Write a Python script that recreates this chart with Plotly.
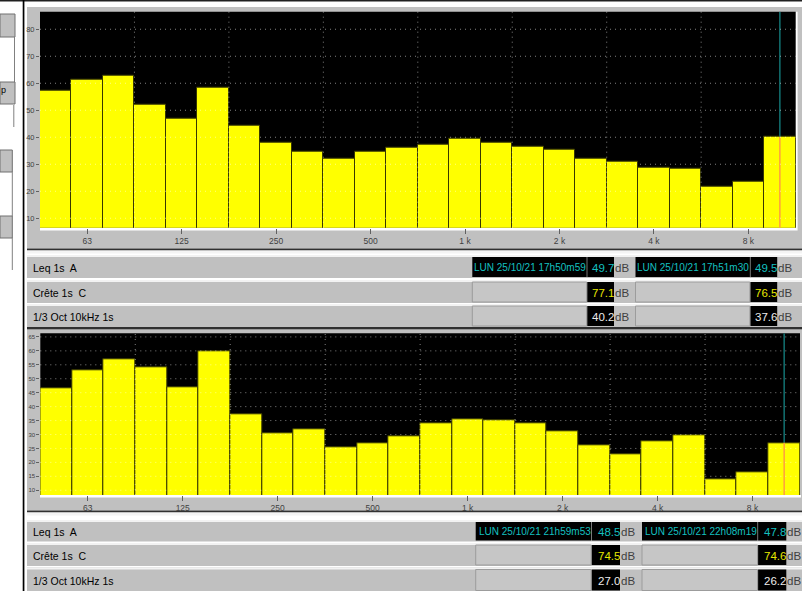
import plotly.graph_objects as go

# 1/3-octave bands shown on both spectra
bands = ["50", "63", "80", "100", "125", "160", "200", "250", "315", "400", "500", "630",
         "800", "1k", "1.25k", "1.6k", "2k", "2.5k", "3.15k", "4k", "5k", "6.3k", "8k", "10k"]
tick_bands = ["63", "125", "250", "500", "1k", "2k", "4k", "8k"]
tick_text = ["63", "125", "250", "500", "1 k", "2 k", "4 k", "8 k"]

# Measurement 1 (17h50)
top_oct10k = [40.2, 37.6]
top_levels = [57.3, 61.2, 62.8, 52.2, 46.7, 58.3, 44.2, 37.9, 34.6, 32.0, 34.6, 36.1,
              37.3, 39.4, 37.9, 36.4, 35.3, 32.0, 31.0, 28.7, 28.4, 21.7, 23.4, top_oct10k[0]]
top_leq_time = ["LUN 25/10/21 17h50m59", "LUN 25/10/21 17h51m30"]
top_leq = [49.7, 49.5]
top_crete = [77.1, 76.5]

# Measurement 2 (22h00)
bottom_oct10k = [27.0, 26.2]
bottom_levels = [46.5, 53.1, 56.9, 54.0, 47.1, 60.0, 37.2, 30.4, 32.0, 25.4, 26.8, 29.3,
                 33.9, 35.4, 35.2, 33.9, 31.0, 26.0, 23.0, 27.4, 29.6, 13.9, 16.6, bottom_oct10k[0]]
bottom_leq_time = ["LUN 25/10/21 21h59m53", "LUN 25/10/21 22h08m19"]
bottom_leq = [48.5, 47.8]
bottom_crete = [74.5, 74.6]

row_labels = ["Leq 1s  A", "Crête 1s  C", "1/3 Oct 10kHz 1s"]

top_range = [6.5, 86.5]
top_ticks = list(range(10, 81, 10))
bottom_range = [8.3, 66.3]
bottom_ticks = list(range(10, 66, 5))

W, H = 802, 591
SANS = "Liberation Sans, Arial, sans-serif"
GRAY = "#c0c0c0"
YELLOW = "#ffff00"
CYAN = "#14c0c0"

def fx(x):
    return x / W

def fy(y):
    return 1 - y / H

shapes = []
annotations = []

def rect(x0, y0, x1, y1, fill, line=None, lw=0, layer="below"):
    shapes.append(dict(type="rect", xref="paper", yref="paper",
                       x0=fx(x0), x1=fx(x1), y0=fy(y1), y1=fy(y0),
                       fillcolor=fill, layer=layer,
                       line=dict(width=lw, color=line or fill)))

def vline(x, y0, y1, color, width=1):
    shapes.append(dict(type="line", xref="paper", yref="paper",
                       x0=fx(x), x1=fx(x), y0=fy(y1), y1=fy(y0),
                       line=dict(color=color, width=width), layer="below"))

def text(x, y, s, color="#000000", size=10, anchor="left", family=SANS):
    annotations.append(dict(xref="paper", yref="paper", x=fx(x), y=fy(y), text=s,
                            showarrow=False, xanchor=anchor, yanchor="middle",
                            font=dict(family=family, size=size, color=color)))

# window chrome: top rule, left panel and separator
rect(0, 0, W, 1.6, "#202020")
rect(22.7, 0, 24.4, H, "#000000")
rect(0, 14, 15, 37, GRAY, "#707070", 1)
vline(14.5, 37, 82, "#808080")
rect(0, 82, 15, 104, GRAY, "#707070", 1)
text(-1, 90, "p", size=9, anchor="left")
vline(13.8, 105, 127, "#808080")
rect(0, 150, 12.3, 172, GRAY, "#707070", 1)
vline(12.3, 172, 216, "#808080")
rect(0, 216, 12.3, 238, GRAY, "#707070", 1)
vline(12.3, 238, 270, "#808080")

# chart frames and their black plotting areas
rect(27, 7, W, 248.5, GRAY)
rect(40, 11.7, 795.6, 227.7, "#000000")
rect(40, 227.7, 796, 230.5, "#ffffff")
rect(796, 11.7, 797.6, 230.5, "#ffffff")
rect(27, 330, W, 510.5, GRAY)
rect(40.3, 333.3, 800, 495, "#000000")
rect(40, 495, 801, 497.5, "#ffffff")


def table(top, rows, xs, leq_time, leq, crete, oct10k):
    # band separating chart frame and table
    rect(27, top, W, top + 2, "#303030")
    rect(27, top + 2, W, top + 5, "#f4f4f4")
    for i, (r0, r1) in enumerate(rows):
        rect(27, r0 - 2, W, r1 + 1, GRAY)
        rect(27, r0 - 2, W, r0, "#f2f2f2")
        text(31, (r0 + r1) / 2 + 0.5, row_labels[i], size=10.5)
    rect(27, rows[-1][1] + 1, W, rows[-1][1] + 3.5, "#303030")
    ax0, ax1, vx1, dbx = xs
    step = dbx - ax0 + 2
    for k in range(2):
        s = k * step
        a0, a1, v1 = ax0 + s, ax1 + s, vx1 + s
        for i, (r0, r1) in enumerate(rows):
            ym = (r0 + r1) / 2 + 0.5
            if i == 0:
                rect(a0, r0, a1, r1, "#000000")
                text(a1 + 1.5, ym, leq_time[k], CYAN, 10, "right")
                val, col = leq[k], CYAN
            else:
                rect(a0, r0, a1, r1, "#c6c6c6", "#9c9c9c", 1)
                val, col = (crete[k], "#e6e600") if i == 1 else (oct10k[k], "#ececec")
            rect(a1 + 0.6, r0, v1, r1, "#000000")
            text(v1 + 1.5, ym, f"{val:.1f}", col, 11.5, "right")
            text(v1 - 1, ym, "dB", "#404040", 11.5, "left")


table(248.5, [(257, 277), (282, 302), (306, 326)],
      (472.3, 586.7, 614, 633.5), top_leq_time, top_leq, top_crete, top_oct10k)
table(510.5, [(522, 540.5), (545, 565), (569.5, 590.5)],
      (475.7, 591.2, 620, 640), bottom_leq_time, bottom_leq, bottom_crete, bottom_oct10k)

fig = go.Figure()
bar_line = dict(color="#383800", width=1)
fig.add_trace(go.Bar(x=bands, y=top_levels, xaxis="x", yaxis="y",
                     marker=dict(color=YELLOW, line=bar_line), hoverinfo="x+y"))
fig.add_trace(go.Bar(x=bands, y=bottom_levels, xaxis="x2", yaxis="y2",
                     marker=dict(color=YELLOW, line=bar_line), hoverinfo="x+y"))

# cursor on the 10 kHz band
for xa, ya, lv, rg in (("x", "y", top_levels[-1], top_range),
                       ("x2", "y2", bottom_levels[-1], bottom_range)):
    fig.add_trace(go.Scatter(x=[bands[-1], bands[-1]], y=[lv, rg[1]], xaxis=xa, yaxis=ya,
                             mode="lines", line=dict(color="#127272", width=1.5),
                             hoverinfo="skip"))
    fig.add_trace(go.Scatter(x=[bands[-1], bands[-1]], y=[rg[0], lv], xaxis=xa, yaxis=ya,
                             mode="lines", line=dict(color="#ff9d40", width=1.5),
                             hoverinfo="skip"))

# dotted grid drawn over the bars
GRID = dict(color="rgba(255,255,255,0.5)", width=1, dash="1px,4px")
for xa, ya, ticks in (("x", "y", top_ticks), ("x2", "y2", bottom_ticks)):
    for t in ticks:
        shapes.append(dict(type="line", xref=f"{xa} domain", yref=ya, x0=0, x1=1,
                           y0=t, y1=t, line=GRID, layer="above"))
    for b in range(3, 24, 3):
        shapes.append(dict(type="line", xref=xa, yref=f"{ya} domain", x0=b - 0.5, x1=b - 0.5,
                           y0=0, y1=1, line=GRID, layer="above"))

xcommon = dict(type="category", range=[-0.5, 23.5], tickmode="array",
               tickvals=tick_bands, ticktext=tick_text, ticks="outside", ticklen=5,
               tickcolor="#606060", tickwidth=1, showgrid=False, zeroline=False,
               showline=False, fixedrange=True,
               tickfont=dict(family=SANS, size=8.5, color="#404040"))
ycommon = dict(ticks="outside", ticklen=3, tickcolor="#606060", tickwidth=1,
               showgrid=False, zeroline=False, showline=False, fixedrange=True,
               tickmode="array")

fig.update_layout(
    width=W, height=H, margin=dict(l=0, r=0, t=0, b=0),
    paper_bgcolor="#ffffff", plot_bgcolor="#000000",
    showlegend=False, bargap=0,
    xaxis=dict(xcommon, domain=[fx(40), fx(795.6)], anchor="y"),
    yaxis=dict(ycommon, domain=[fy(227.7), fy(11.7)], anchor="x", range=top_range,
               tickvals=top_ticks, tickfont=dict(family=SANS, size=7.5, color="#404040")),
    xaxis2=dict(xcommon, domain=[fx(40.3), fx(800)], anchor="y2"),
    yaxis2=dict(ycommon, domain=[fy(495), fy(333.3)], anchor="x2", range=bottom_range,
                tickvals=bottom_ticks, tickfont=dict(family=SANS, size=6, color="#404040")),
    shapes=shapes, annotations=annotations,
)

fig.write_html("out.html")
